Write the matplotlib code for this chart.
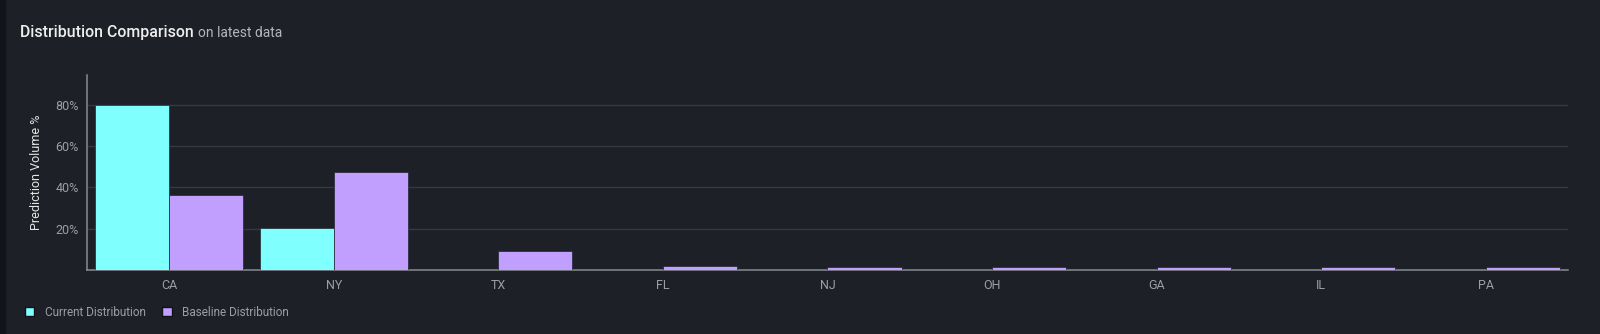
import matplotlib.pyplot as plt
from matplotlib.patches import Patch, Rectangle
import numpy as np

states = ['CA', 'NY', 'TX', 'FL', 'NJ', 'OH', 'GA', 'IL', 'PA']
current = [80.0, 20.2, 0, 0, 0, 0, 0, 0, 0]
baseline = [36.3, 47.3, 9.2, 1.9, 1.5, 1.4, 1.4, 1.3, 1.3]
yticks = [20, 40, 60, 80]

bg = '#1e2028'
cyan = '#80ffff'
purple = '#c09fff'
grid_c = '#363942'
txt_c = '#9c9ea5'

plt.rcParams['font.family'] = ['Roboto', 'DejaVu Sans']

fig = plt.figure(figsize=(16, 3.34), dpi=100, facecolor=bg)
# thin darker strip at the left edge
fig.patches.append(Rectangle((0, 0), 0.003, 1, transform=fig.transFigure,
                             color='#121419', zorder=0))

ax = fig.add_axes([87/1600, 64/334, 1481/1600, 195/334])
ax.set_facecolor(bg)

x = np.arange(len(states))
w = 0.45
ax.bar(x - w/2, current, w, color=cyan, edgecolor='#111318', linewidth=0.4, zorder=3)
ax.bar(x + w/2, baseline, w, color=purple, edgecolor='#111318', linewidth=0.4, zorder=3)

ax.set_xlim(-0.5, len(states) - 0.5)
ax.set_ylim(0, 94.5)
ax.set_xticks(x)
ax.set_xticklabels(states)
ax.set_yticks(yticks)
ax.set_yticklabels([f'{t}%' for t in yticks])
ax.tick_params(axis='both', length=0, colors=txt_c, labelsize=9)
ax.tick_params(axis='y', pad=6)
ax.tick_params(axis='x', pad=6.5)
ax.grid(axis='y', color=grid_c, linewidth=1, zorder=0)

for s in ['top', 'right']:
    ax.spines[s].set_visible(False)
for s in ['left', 'bottom']:
    ax.spines[s].set_color('#8a8c92')
    ax.spines[s].set_linewidth(1.1)
    ax.spines[s].set_zorder(2.5)

ax.set_ylabel('Prediction Volume %', color='#e6e6e6', fontsize=9, labelpad=9)

fig.text(20/1600, 1 - 33/334, 'Distribution Comparison', color='#eeeeee',
         fontsize=11.4, fontweight='medium', va='center', ha='left')
fig.text(198/1600, 1 - 33/334, 'on latest data', color='#b4b6bb',
         fontsize=10, va='center', ha='left')

handles = [Patch(facecolor=cyan, edgecolor='#111318', label='Current Distribution'),
           Patch(facecolor=purple, edgecolor='#111318', label='Baseline Distribution')]
fig.legend(handles=handles, loc='center left', bbox_to_anchor=(14/1600, 1 - 312/334),
           ncol=2, frameon=False, fontsize=8.5, labelcolor=txt_c,
           handlelength=0.8, handleheight=0.8, handletextpad=0.9, columnspacing=1.4)

fig.savefig('out.png', dpi=100, facecolor=bg)
